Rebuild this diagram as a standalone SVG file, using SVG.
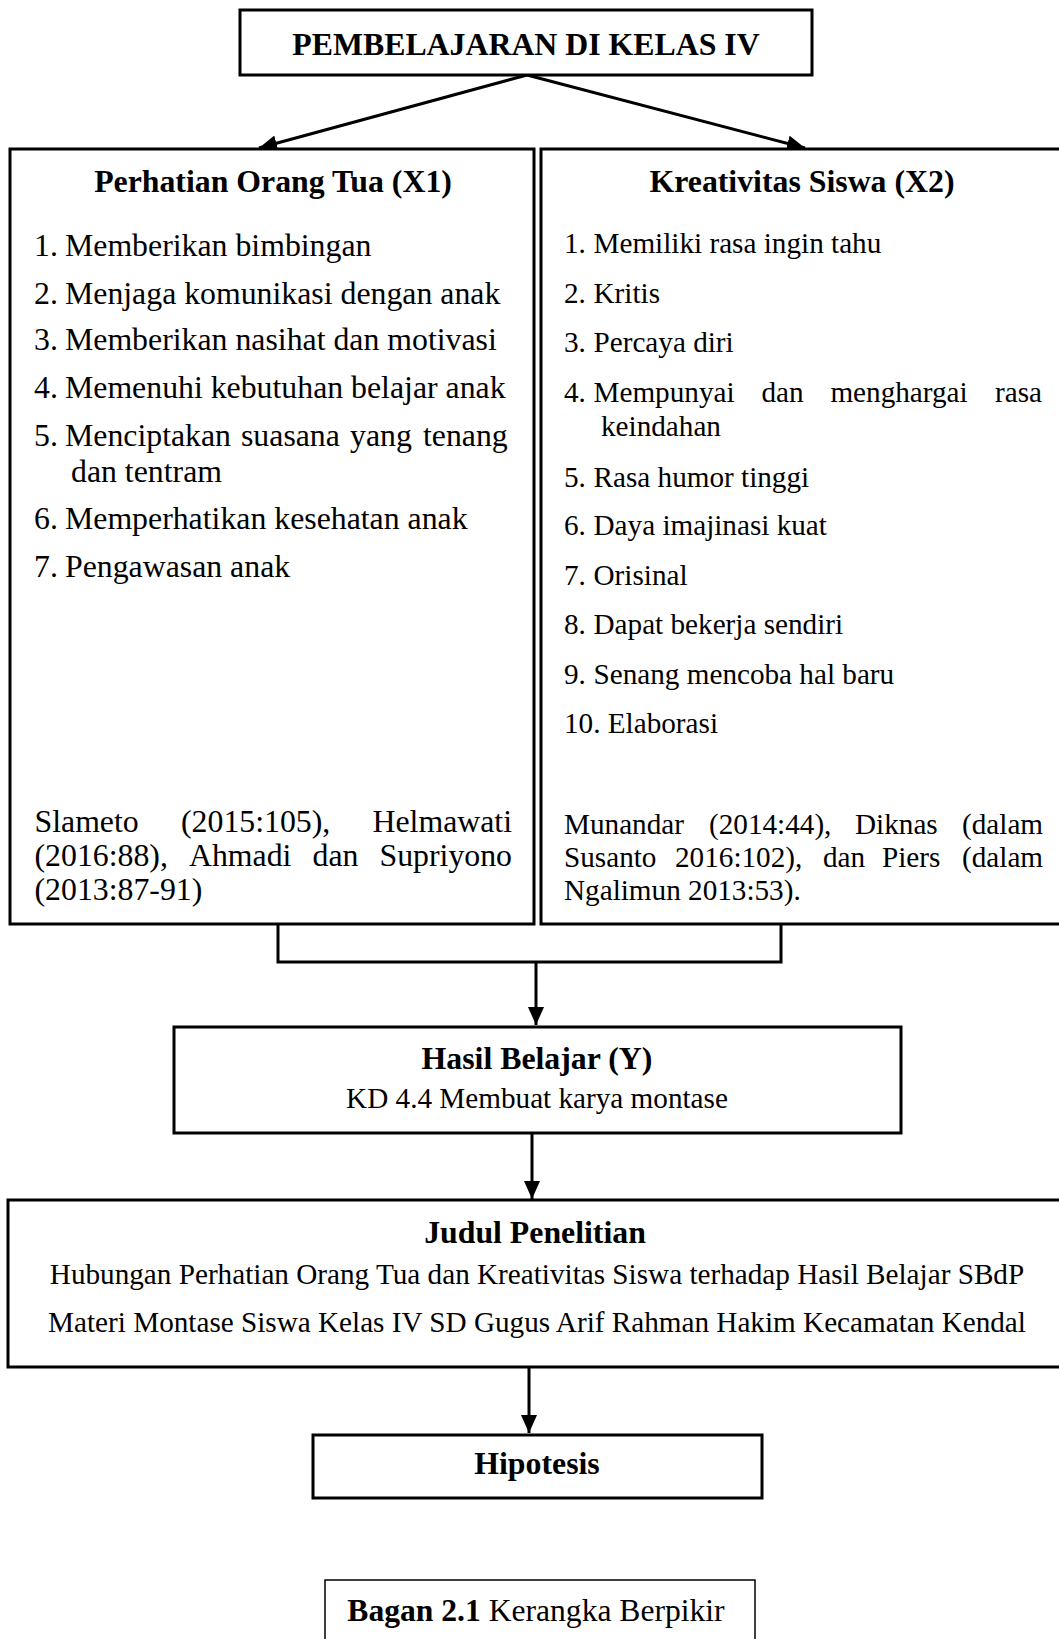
<svg xmlns="http://www.w3.org/2000/svg" width="1059" height="1639" viewBox="0 0 1059 1639">
<style>
  .box{fill:#fff;stroke:#000;stroke-width:3}
  .thin{fill:#fff;stroke:#000;stroke-width:1.5}
  .b{font-family:"Liberation Serif","Times New Roman",serif;font-weight:bold;font-size:31.8px;fill:#000}
  .r1{font-family:"Liberation Serif","Times New Roman",serif;font-size:31.8px;fill:#000}
  .r2{font-family:"Liberation Serif","Times New Roman",serif;font-size:29.2px;fill:#000}
  .c{text-anchor:middle}
  .conn{fill:none;stroke:#000;stroke-width:3}
</style>
<defs>
  <marker id="ah" markerUnits="userSpaceOnUse" markerWidth="20" markerHeight="16" refX="18" refY="8" orient="auto">
    <path d="M0,0 L18,8 L0,16 Z" fill="#000"/>
  </marker>
</defs>
<rect width="1059" height="1639" fill="#fff"/>

<g id="connectors">
  <path class="conn" d="M527,75 L259,148" marker-end="url(#ah)"/>
  <path class="conn" d="M527,75 L805,148" marker-end="url(#ah)"/>
  <path class="conn" d="M278,924 V962 H781 V924"/>
  <path class="conn" d="M536,962 V1025" marker-end="url(#ah)"/>
  <path class="conn" d="M532,1133 V1199" marker-end="url(#ah)"/>
  <path class="conn" d="M529,1367 V1433" marker-end="url(#ah)"/>
</g>

<g id="n-pembelajaran">
  <rect class="box" x="240" y="10" width="572" height="65"/>
  <text class="b c" x="526" y="55">PEMBELAJARAN DI KELAS IV</text>
</g>

<g id="n-x1">
  <rect class="box" x="10" y="149" width="524" height="775"/>
  <text class="b c" x="273" y="192">Perhatian Orang Tua (X1)</text>
  <text class="r1" y="256"><tspan x="34">1.</tspan><tspan x="65">Memberikan bimbingan</tspan></text>
  <text class="r1" y="304"><tspan x="34">2.</tspan><tspan x="65">Menjaga komunikasi dengan anak</tspan></text>
  <text class="r1" y="350"><tspan x="34">3.</tspan><tspan x="65">Memberikan nasihat dan motivasi</tspan></text>
  <text class="r1" y="398"><tspan x="34">4.</tspan><tspan x="65">Memenuhi kebutuhan belajar anak</tspan></text>
  <text class="r1" y="446"><tspan x="34">5.</tspan><tspan x="65">Menciptakan</tspan><tspan x="241">suasana</tspan><tspan x="350">yang</tspan><tspan x="423">tenang</tspan></text>
  <text class="r1" x="71" y="482">dan tentram</text>
  <text class="r1" y="529"><tspan x="34">6.</tspan><tspan x="65">Memperhatikan kesehatan anak</tspan></text>
  <text class="r1" y="577"><tspan x="34">7.</tspan><tspan x="65">Pengawasan anak</tspan></text>
  <text class="r1" y="832"><tspan x="34.5">Slameto</tspan><tspan x="181">(2015:105),</tspan><tspan x="372.5">Helmawati</tspan></text>
  <text class="r1" y="866"><tspan x="34.5">(2016:88),</tspan><tspan x="189">Ahmadi</tspan><tspan x="312.6">dan</tspan><tspan x="379.5">Supriyono</tspan></text>
  <text class="r1" x="34.5" y="900">(2013:87-91)</text>
</g>

<g id="n-x2">
  <rect class="box" x="541" y="149" width="530" height="775"/>
  <text class="b c" x="802" y="192">Kreativitas Siswa (X2)</text>
  <text class="r2" y="253"><tspan x="564">1.</tspan><tspan x="593.5">Memiliki rasa ingin tahu</tspan></text>
  <text class="r2" y="303"><tspan x="564">2.</tspan><tspan x="593.5">Kritis</tspan></text>
  <text class="r2" y="352"><tspan x="564">3.</tspan><tspan x="593.5">Percaya diri</tspan></text>
  <text class="r2" y="402"><tspan x="564">4.</tspan><tspan x="593.5">Mempunyai</tspan><tspan x="761.4">dan</tspan><tspan x="830.4">menghargai</tspan><tspan x="995">rasa</tspan></text>
  <text class="r2" x="601" y="436">keindahan</text>
  <text class="r2" y="487"><tspan x="564">5.</tspan><tspan x="593.5">Rasa humor tinggi</tspan></text>
  <text class="r2" y="535"><tspan x="564">6.</tspan><tspan x="593.5">Daya imajinasi kuat</tspan></text>
  <text class="r2" y="585"><tspan x="564">7.</tspan><tspan x="593.5">Orisinal</tspan></text>
  <text class="r2" y="634"><tspan x="564">8.</tspan><tspan x="593.5">Dapat bekerja sendiri</tspan></text>
  <text class="r2" y="684"><tspan x="564">9.</tspan><tspan x="593.5">Senang mencoba hal baru</tspan></text>
  <text class="r2" x="564" y="733">10. Elaborasi</text>
  <text class="r2" y="834"><tspan x="564">Munandar</tspan><tspan x="709">(2014:44),</tspan><tspan x="855">Diknas</tspan><tspan x="962">(dalam</tspan></text>
  <text class="r2" y="867"><tspan x="564">Susanto</tspan><tspan x="675">2016:102),</tspan><tspan x="823">dan</tspan><tspan x="882">Piers</tspan><tspan x="962">(dalam</tspan></text>
  <text class="r2" x="564" y="900">Ngalimun 2013:53).</text>
</g>

<g id="n-hasil">
  <rect class="box" x="174" y="1027" width="727" height="106"/>
  <text class="b c" x="537" y="1069">Hasil Belajar (Y)</text>
  <text class="r2 c" x="537" y="1108">KD 4.4 Membuat karya montase</text>
</g>

<g id="n-judul">
  <rect class="box" x="8" y="1200" width="1070" height="167"/>
  <text class="b c" x="535" y="1243">Judul Penelitian</text>
  <text class="r2 c" x="537" y="1284">Hubungan Perhatian Orang Tua dan Kreativitas Siswa terhadap Hasil Belajar SBdP</text>
  <text class="r2 c" x="537" y="1332">Materi Montase Siswa Kelas IV SD Gugus Arif Rahman Hakim Kecamatan Kendal</text>
</g>

<g id="n-hipotesis">
  <rect class="box" x="313" y="1435" width="449" height="63"/>
  <text class="b c" x="537" y="1474">Hipotesis</text>
</g>

<g id="n-caption">
  <rect class="thin" x="325" y="1580" width="430" height="70"/>
  <text class="r1 c" x="536" y="1621" style="font-size:31.6px"><tspan font-weight="bold">Bagan 2.1</tspan> Kerangka Berpikir</text>
</g>
</svg>
